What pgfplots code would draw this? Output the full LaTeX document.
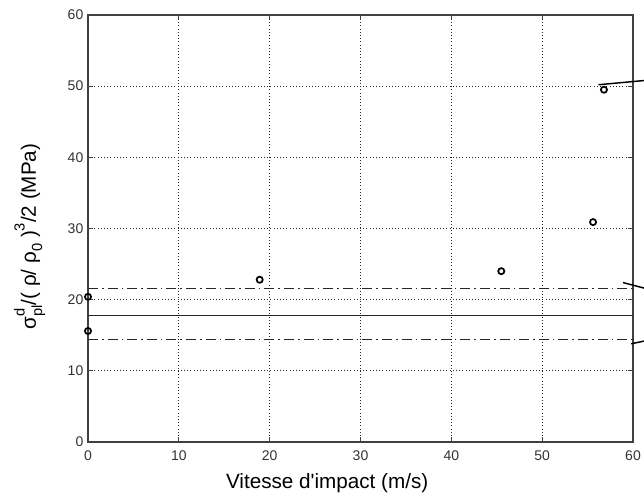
\documentclass[border=0pt]{standalone}
\usepackage{fontspec}
\setmainfont{Liberation Sans}
\usepackage{pgfplots}
\pgfplotsset{compat=1.18}
\newcommand{\sps}[1]{\raisebox{0.55em}{\fontsize{11}{12}\selectfont #1}}
\newcommand{\sbs}[1]{\raisebox{-0.3em}{\fontsize{11}{12}\selectfont #1}}
\begin{document}
\begin{tikzpicture}
\begin{axis}[
  scale only axis,
  width=408.75pt, height=320.25pt,
  xmin=0, xmax=60, ymin=0, ymax=60,
  xtick={0,10,...,60}, ytick={0,10,...,60},
  grid=major,
  major grid style={black!85, dotted, line width=0.6pt},
  tick align=inside, tick pos=both,
  major tick length=4pt,
  axis line style={black!75, line width=0.8pt},
  tick style={black!75, line width=0.6pt},
  ticklabel style={font=\fontsize{10.5}{12}\selectfont, text=black!80},
  xticklabel style={yshift=-3pt},
  /pgf/number format/assume math mode=true,
  xlabel={Vitesse d\textquotesingle impact (m/s)},
  ylabel={σ\rlap{\sps{d}}\sbs{pl}/( ρ/ ρ\sbs{0} )\sps{3}/2 (MPa)},
  label style={font=\fontsize{15.5}{17}\selectfont},
  xlabel style={yshift=-3pt, xshift=-25pt},
  ylabel style={yshift=10pt, xshift=-6pt},
  clip=false,
]
\addplot[black!85, line width=0.75pt] coordinates {(0,17.8) (60,17.8)};
\addplot[black!85, line width=0.75pt, dash pattern=on 7.5pt off 3pt on 1.2pt off 3pt] coordinates {(0,21.5) (60,21.5)};
\addplot[black!85, line width=0.75pt, dash pattern=on 7.5pt off 3pt on 1.2pt off 3pt] coordinates {(0,14.4) (60,14.4)};
\addplot[only marks, mark=o, mark size=2.3pt, mark options={line width=1.3pt}, black] coordinates {
(0,15.6) (0,20.4) (18.9,22.8) (45.5,24.0) (55.6,30.9) (56.8,49.5)};
\addplot[black, line width=1.1pt] coordinates {(56.2,50.2) (61.3,50.8)};
\addplot[black, line width=1.1pt] coordinates {(58.9,22.4) (61.3,21.6)};
\addplot[black, line width=1.1pt] coordinates {(59.8,13.8) (61.3,14.2)};
\end{axis}
\pgfresetboundingbox
\useasboundingbox ([xshift=-66pt,yshift=-44.25pt]current axis.south west) rectangle ([xshift=8.25pt,yshift=11.25pt]current axis.north east);
\end{tikzpicture}
\end{document}
